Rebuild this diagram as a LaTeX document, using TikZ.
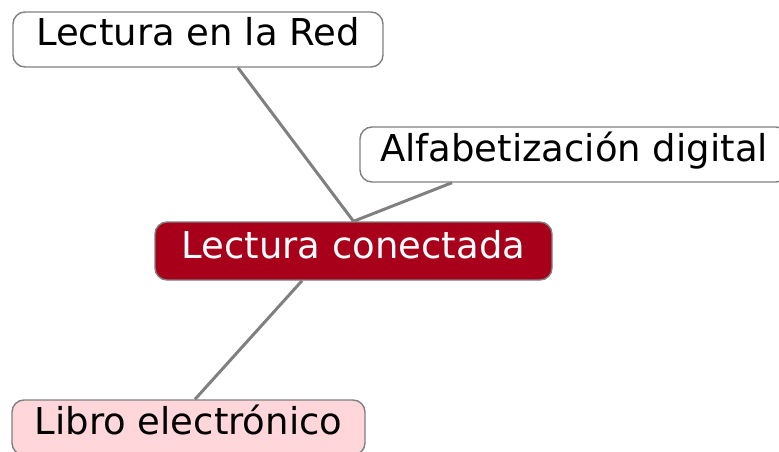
\documentclass[tikz,border=0pt]{standalone}
\usepackage{fontspec}
\setmainfont{DejaVu Sans}
\definecolor{mapred}{RGB}{168,0,26}
\definecolor{mappink}{RGB}{255,214,218}
\definecolor{mapline}{RGB}{128,128,128}
\begin{document}
\begin{tikzpicture}[x=1pt,y=-1pt,
    topic/.style={draw=mapline,line width=1.4pt,rounded corners=12pt,fill=white,
      inner xsep=0pt,inner ysep=4pt,text height=30pt,text depth=17pt,
      font=\fontsize{37}{40}\selectfont},
    link/.style={mapline,line width=3pt}]
      \useasboundingbox (0,0) rectangle (779,452);
      \node [topic,minimum width=370pt] (lred) at (198,39.5) {Lectura en la Red};
      \node [topic,minimum width=428pt] (alfa) at (574,154.5) {Alfabetización digital};
      \node [topic,minimum width=353pt,fill=mappink] (libro) at (188.5,427.5) {Libro electrónico};
      \node [topic,minimum width=397pt,fill=mapred,text=white,text height=32pt,text depth=18pt] (red) at (353.5,251) {Lectura conectada};
      \draw [link] ([xshift=40pt]lred.south) -- (red.north);
      \draw [link] ([xshift=-122pt]alfa.south) -- (red.north);
      \draw [link] ([xshift=-51.5pt]red.south) -- ([xshift=6.5pt]libro.north);
    \end{tikzpicture}
\end{document}
